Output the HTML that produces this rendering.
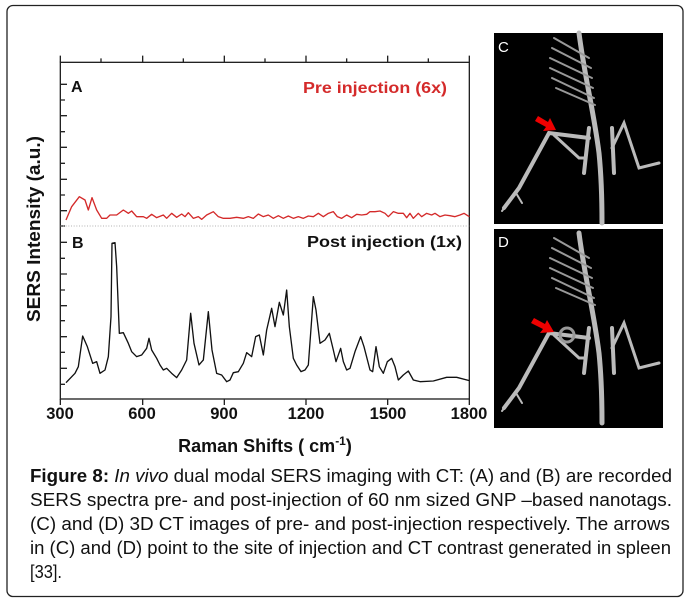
<!DOCTYPE html>
<html><head><meta charset="utf-8"><style>
html,body{margin:0;padding:0;background:#fff;}
svg{display:block;}
text{font-family:"Liberation Sans",Arial,sans-serif;}
</style></head><body>
<svg width="689" height="603" viewBox="0 0 689 603" xmlns="http://www.w3.org/2000/svg">
<rect x="7" y="5.5" width="676" height="591" rx="6" fill="#fff" stroke="#222" stroke-width="1.3"/>

<g transform="translate(0,50) scale(0.33333)">
  <rect x="181" y="37" width="1227" height="1010" fill="none" stroke="#222" stroke-width="4"/>
  <g stroke="#222" stroke-width="4">
    <path d="M181,37v-20M428,37v-20M673,37v-20M918,37v-20M1163,37v-20M1408,37v-20M303,37v-12M550,37v-12M795,37v-12M1040,37v-12M1285,37v-12"/>
    <path d="M181,1047v18M428,1047v18M673,1047v18M918,1047v18M1163,1047v18M1408,1047v18"/>
    <path d="M181,103h20M181,150h14M181,197h20M181,245h14M181,292h20M181,340h14M181,388h20M181,435h14M181,482h20M181,528h14M181,577h20M181,625h14M181,672h20M181,720h14M181,767h20M181,812h14M181,860h20M181,907h14M181,955h20M181,1003h14"/>
  </g>
  <line x1="181" y1="528" x2="1408" y2="528" stroke="#999" stroke-width="2" stroke-dasharray="3,5"/>
  <path fill="none" stroke="#d42a2a" stroke-width="4" stroke-linejoin="round" d="M198,510 L215,470 L238,440 L255,450 L265,480 L276,443 L290,480 L305,505 L320,505 L330,495 L350,495 L370,480 L385,490 L395,483 L410,500 L430,500 L440,505 L455,493 L470,503 L490,495 L500,505 L515,490 L530,502 L545,492 L555,500 L565,488 L580,505 L595,500 L605,508 L620,495 L640,485 L655,500 L670,505 L690,505 L710,502 L730,505 L745,500 L760,505 L775,492 L790,500 L805,495 L820,505 L835,497 L850,505 L865,498 L880,505 L895,500 L910,505 L925,498 L940,500 L955,490 L970,500 L985,490 L1000,485 L1012,500 L1025,505 L1040,495 L1055,503 L1070,493 L1085,495 L1100,493 L1110,485 L1125,485 L1140,483 L1155,490 L1165,500 L1180,485 L1195,490 L1210,490 L1220,503 L1230,490 L1240,505 L1255,490 L1265,500 L1280,490 L1295,495 L1305,490 L1320,500 L1335,495 L1350,497 L1365,500 L1380,495 L1392,490 L1408,500"/>
  <path fill="none" stroke="#111" stroke-width="4" stroke-linejoin="round" d="M198,998 L225,970 L235,950 L248,858 L262,890 L278,940 L290,935 L300,970 L315,960 L325,920 L333,800 L336,580 L345,578 L350,650 L358,850 L370,848 L385,880 L395,905 L410,920 L425,915 L440,895 L447,865 L455,900 L470,925 L480,945 L490,960 L500,955 L515,970 L530,983 L545,960 L560,930 L572,790 L582,880 L597,945 L610,930 L625,785 L636,900 L650,970 L665,975 L680,995 L690,990 L700,968 L715,965 L730,940 L740,908 L755,920 L767,860 L778,855 L790,915 L800,840 L815,775 L825,830 L838,757 L850,795 L860,720 L868,830 L880,925 L890,945 L903,965 L915,960 L925,945 L940,740 L948,780 L960,880 L975,870 L988,850 L1000,900 L1008,935 L1022,895 L1030,935 L1040,960 L1050,955 L1065,905 L1082,860 L1092,890 L1110,960 L1118,965 L1128,890 L1138,950 L1150,970 L1162,935 L1175,925 L1185,950 L1195,990 L1210,975 L1225,963 L1240,990 L1260,995 L1300,993 L1340,982 L1370,982 L1408,992"/>
</g>

<g font-weight="bold" font-size="16.5" fill="#111" text-anchor="middle">
  <text x="60" y="419">300</text><text x="142" y="419">600</text><text x="224" y="419">900</text>
  <text x="306" y="419">1200</text><text x="388" y="419">1500</text><text x="469" y="419">1800</text>
</g>
<text x="265" y="452" font-weight="bold" font-size="18" text-anchor="middle" fill="#111">Raman Shifts ( cm<tspan font-size="12" dy="-7">-1</tspan><tspan dy="7">)</tspan></text>
<text transform="translate(40,229) rotate(-90)" font-weight="bold" font-size="18" text-anchor="middle" fill="#111" textLength="186" lengthAdjust="spacingAndGlyphs">SERS Intensity (a.u.)</text>
<text x="71" y="92" font-weight="bold" font-size="16" fill="#111">A</text>
<text x="72" y="248" font-weight="bold" font-size="16" fill="#111">B</text>
<text x="303" y="93" font-weight="bold" font-size="16" fill="#d42a2a" textLength="144" lengthAdjust="spacingAndGlyphs">Pre injection (6x)</text>
<text x="307" y="247" font-weight="bold" font-size="16" fill="#111" textLength="155" lengthAdjust="spacingAndGlyphs">Post injection (1x)</text>

<defs>
<g id="skel" fill="none" stroke="#bbb" stroke-linecap="round">
  <path d="M85,0 C90,40 100,80 105,120 C108,150 108,175 108,190" stroke-width="5"/>
  <path d="M60,5 L95,25 M58,15 L97,35 M56,25 L98,45 M56,35 L99,55 M58,45 L100,65 M62,55 L101,72" stroke-width="2" stroke="#999"/>
  <path d="M95,95 L90,140 M118,95 L120,140" stroke-width="4"/>
  <path d="M95,105 L55,100 L25,155 L10,175" stroke-width="4"/>
  <path d="M60,102 L85,125 L92,125" stroke-width="3"/>
  <path d="M118,115 L130,90 L145,135 L165,130" stroke-width="3"/>
  <path d="M22,160 L28,170 M18,165 L8,178" stroke-width="2"/>
</g>
</defs>
<rect x="494" y="33" width="169" height="191" fill="#000"/>
<g transform="translate(494,33)"><use href="#skel"/></g>
<text x="498" y="52" font-size="15" fill="#fff">C</text>
<path d="M538,116 L548,122 L550,118 L556,130 L543,131 L546,127 L535,121 Z" fill="#e00"/>
<rect x="494" y="229" width="169" height="199" fill="#000"/>
<g transform="translate(494,233)"><use href="#skel"/></g>
<text x="498" y="247" font-size="15" fill="#fff">D</text>
<circle cx="567" cy="335" r="7" fill="none" stroke="#999" stroke-width="3"/>
<path d="M534,318 L545,324 L547,320 L554,332 L540,333 L543,329 L531,323 Z" fill="#e00"/>

<g font-size="18" fill="#111">
  <text x="30" y="482" textLength="642" lengthAdjust="spacingAndGlyphs"><tspan font-weight="bold">Figure 8:</tspan> <tspan font-style="italic">In vivo</tspan> dual modal SERS imaging with CT: (A) and (B) are recorded</text>
  <text x="30" y="506" textLength="642" lengthAdjust="spacingAndGlyphs">SERS spectra pre- and post-injection of 60 nm sized GNP –based nanotags.</text>
  <text x="30" y="530" textLength="640" lengthAdjust="spacingAndGlyphs">(C) and (D) 3D CT images of pre- and post-injection respectively. The arrows</text>
  <text x="30" y="554" textLength="641" lengthAdjust="spacingAndGlyphs">in (C) and (D) point to the site of injection and CT contrast generated in spleen</text>
  <text x="30" y="578" textLength="32" lengthAdjust="spacingAndGlyphs">[33].</text>
</g>
</svg>
</body></html>
